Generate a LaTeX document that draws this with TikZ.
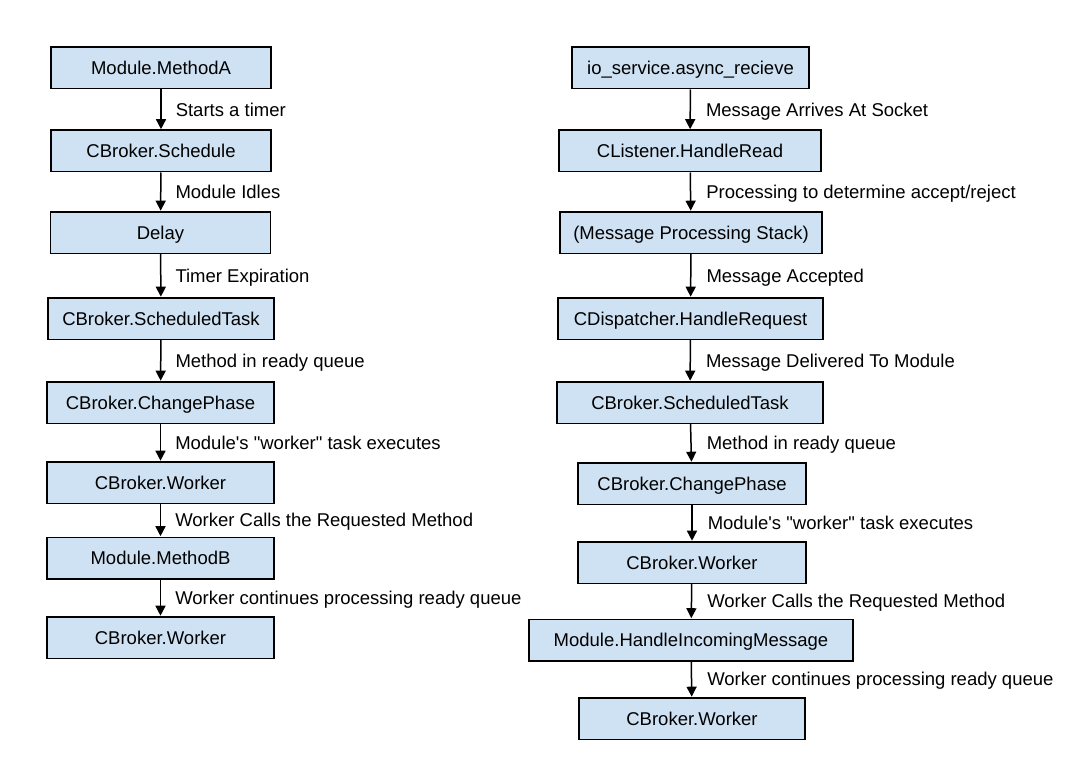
\documentclass[tikz,border=0pt]{standalone}
\usepackage{fontspec}
\setmainfont{Liberation Sans}
\usetikzlibrary{arrows.meta}
\definecolor{boxfill}{HTML}{CFE2F3}
\begin{document}
\begin{tikzpicture}[x=1pt,y=-1pt,
  font=\fontsize{18.5}{22}\selectfont,
  stepbox/.style={draw=black, fill=boxfill, line width=1.5pt, inner sep=0pt,
    minimum height=41.5pt, text height=13.2pt, text depth=0pt},
  flow/.style={line width=1.5pt, -{Triangle[length=10pt,width=10pt]}, shorten >=0.3pt},
  lbl/.style={right, inner sep=0pt, text height=13.2pt, text depth=0pt}]
\useasboundingbox (0,0) rectangle (1083,762);

% Timer-driven path
\node[stepbox, minimum width=220pt] (l1) at (161,68) {Module.MethodA};
\node[stepbox, minimum width=220pt] (l2) at (161,151) {CBroker.Schedule};
\node[stepbox, minimum width=220pt] (l3) at (160.5,232.5) {Delay};
\node[stepbox, minimum width=226pt] (l4) at (161,318.5) {CBroker.ScheduledTask};
\node[stepbox, minimum width=227pt] (l5) at (160.5,402.5) {CBroker.ChangePhase};
\node[stepbox, minimum width=227pt] (l6) at (160.5,482.5) {CBroker.Worker};
\node[stepbox, minimum width=227pt] (l7) at (160.5,558) {Module.MethodB};
\node[stepbox, minimum width=227pt] (l8) at (160.5,637.5) {CBroker.Worker};

\draw[flow] (l1) -- node[lbl, xshift=14pt] {Starts a timer} (l2);
\draw[flow] (l2) -- node[lbl, xshift=14pt] {Module Idles} (l3);
\draw[flow] (l3) -- node[lbl, xshift=14pt] {Timer Expiration} (l4);
\draw[flow] (l4) -- node[lbl, xshift=14pt] {Method in ready queue} (l5);
\draw[flow] (l5) -- node[lbl, xshift=14pt] {Module\textquotesingle s \textquotedbl worker\textquotedbl\ task executes} (l6);
\draw[flow] (l6) -- node[lbl, xshift=14pt] {Worker Calls the Requested Method} (l7);
\draw[flow] (l7) -- node[lbl, xshift=14pt] {Worker continues processing ready queue} (l8);

% Message-driven path
\node[stepbox, minimum width=237pt] (r1) at (690.5,68) {io\_service.async\_recieve};
\node[stepbox, minimum width=262pt] (r2) at (690,151) {CListener.HandleRead};
\node[stepbox, minimum width=262pt] (r3) at (691,232.5) {(Message Processing Stack)};
\node[stepbox, minimum width=265pt] (r4) at (690.5,318.5) {CDispatcher.HandleRequest};
\node[stepbox, minimum width=266pt] (r5) at (690,402.5) {CBroker.ScheduledTask};
\node[stepbox, minimum width=228pt] (r6) at (692,483.5) {CBroker.ChangePhase};
\node[stepbox, minimum width=228pt] (r7) at (692,562.5) {CBroker.Worker};
\node[stepbox, minimum width=324pt] (r8) at (691,640) {Module.HandleIncomingMessage};
\node[stepbox, minimum width=226pt] (r9) at (692,718.5) {CBroker.Worker};

\draw[flow] (r1) -- node[lbl, xshift=15pt] {Message Arrives At Socket} (r2);
\draw[flow] (r2) -- node[lbl, xshift=15pt] {Processing to determine accept/reject} (r3);
\draw[flow] (r3) -- node[lbl, xshift=15pt] {Message Accepted} (r4);
\draw[flow] (r4) -- node[lbl, xshift=15pt] {Message Delivered To Module} (r5);
\draw[flow] (r5) -- node[lbl, xshift=15pt] {Method in ready queue} (r6);
\draw[flow] (r6) -- node[lbl, xshift=15pt] {Module\textquotesingle s \textquotedbl worker\textquotedbl\ task executes} (r7);
\draw[flow] (r7) -- node[lbl, xshift=15pt] {Worker Calls the Requested Method} (r8);
\draw[flow] (r8) -- node[lbl, xshift=15pt] {Worker continues processing ready queue} (r9);
\end{tikzpicture}
\end{document}
